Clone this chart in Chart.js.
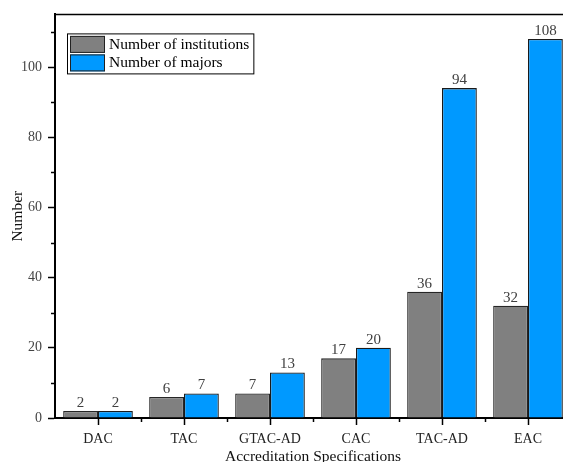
<!DOCTYPE html>
<html>
<head>
<meta charset="utf-8">
<script src="https://cdn.jsdelivr.net/npm/chart.js@4/dist/chart.umd.min.js"></script>
<style>
  html, body { margin: 0; padding: 0; background: #fff; overflow: hidden; width: 563px; height: 462px; }
  canvas { display: block; }
</style>
</head>
<body>
<canvas id="c" width="580" height="470"></canvas>
<script>
// Accreditation specifications and counts per specification
const categories = ['DAC', 'TAC', 'GTAC-AD', 'CAC', 'TAC-AD', 'EAC'];
const institutions = [2, 6, 7, 17, 36, 32];
const majors = [2, 7, 13, 20, 94, 108];
const seriesNames = ['Number of institutions', 'Number of majors'];
const yMajorTicks = [0, 20, 40, 60, 80, 100];
const yMinorTicks = [10, 30, 50, 70, 90, 110];

const SERIF = '"Liberation Serif", "Times New Roman", serif';

// Value labels above every bar
const valueLabels = {
  id: 'valueLabels',
  afterDatasetsDraw(chart) {
    const ctx = chart.ctx;
    ctx.save();
    ctx.font = '15px ' + SERIF;
    ctx.fillStyle = '#404040';
    ctx.textAlign = 'center';
    ctx.textBaseline = 'bottom';
    chart.data.datasets.forEach((ds, i) => {
      chart.getDatasetMeta(i).data.forEach((bar, j) => {
        ctx.fillText(String(ds.data[j]), bar.x, bar.y - 0.5);
      });
    });
    ctx.restore();
  }
};

// Minor ticks, top frame line and boxed legend
const frame = {
  id: 'frame',
  afterDraw(chart) {
    const ctx = chart.ctx;
    const a = chart.chartArea;
    const x = chart.scales.x, y = chart.scales.y;
    ctx.save();
    ctx.strokeStyle = '#000';
    // top frame
    ctx.lineWidth = 1.5;
    ctx.beginPath();
    ctx.moveTo(a.left, a.top);
    ctx.lineTo(a.right + 2, a.top);
    ctx.stroke();
    // minor ticks on y
    ctx.lineWidth = 1.5;
    yMinorTicks.forEach(v => {
      const py = Math.round(y.getPixelForValue(v)) + 0.5;
      ctx.beginPath();
      ctx.moveTo(a.left - 4, py);
      ctx.lineTo(a.left, py);
      ctx.stroke();
    });
    // minor ticks on x at category boundaries
    for (let i = 1; i < categories.length; i++) {
      const px = Math.round((x.getPixelForValue(i - 1) + x.getPixelForValue(i)) / 2) + 0.5;
      ctx.beginPath();
      ctx.moveTo(px, a.bottom);
      ctx.lineTo(px, a.bottom + 4);
      ctx.stroke();
    }
    // legend
    ctx.font = '15.5px ' + SERIF;
    const lx = a.left + 12, ly = a.top + 19;
    const rowH = 18.5;
    let tw = 0;
    chart.data.datasets.forEach(ds => { tw = Math.max(tw, ctx.measureText(ds.label).width); });
    const bw = 3 + 35 + 5 + tw + 3, bh = rowH * 2 + 3;
    ctx.fillStyle = '#fff';
    ctx.fillRect(lx, ly, bw, bh);
    ctx.lineWidth = 1;
    ctx.strokeRect(lx + 0.5, ly + 0.5, bw, bh);
    chart.data.datasets.forEach((ds, i) => {
      const sy = ly + 2.5 + i * rowH;
      ctx.fillStyle = ds.backgroundColor;
      ctx.fillRect(lx + 3, sy, 35, 17);
      ctx.strokeStyle = '#222';
      ctx.lineWidth = 1;
      ctx.strokeRect(lx + 3.5, sy + 0.5, 34, 16);
      ctx.fillStyle = '#000';
      ctx.textAlign = 'left';
      ctx.textBaseline = 'middle';
      ctx.fillText(ds.label, lx + 42, sy + 9);
    });
    ctx.restore();
  }
};

new Chart(document.getElementById('c'), {
  type: 'bar',
  data: {
    labels: categories,
    datasets: [
      { label: seriesNames[0], data: institutions, backgroundColor: '#808080', borderColor: '#262626', borderWidth: 1.3 },
      { label: seriesNames[1], data: majors, backgroundColor: '#0099ff', borderColor: '#1a1a1a', borderWidth: 1.3 }
    ]
  },
  options: {
    responsive: false,
    animation: false,
    devicePixelRatio: 1,
    layout: { padding: { top: 14, right: 9, left: 0, bottom: 0 } },
    plugins: { legend: { display: false }, tooltip: { enabled: false } },
    datasets: { bar: { categoryPercentage: 0.81, barPercentage: 1 } },
    scales: {
      x: {
        type: 'category',
        offset: true,
        grid: { display: true, offset: false, drawOnChartArea: false, tickLength: 7, tickWidth: 1.5, tickColor: '#000' },
        border: { display: true, color: '#000', width: 2 },
        ticks: { color: '#222', padding: 6, font: { family: SERIF, size: 14 }, maxRotation: 0 },
        title: { display: true, text: 'Accreditation Specifications', color: '#111', font: { family: SERIF, size: 15.5 }, padding: { top: 0, bottom: 4 } },
        afterFit(scale) { scale.height = 52; }
      },
      y: {
        min: 0,
        max: 115,
        grid: { display: true, drawOnChartArea: false, tickLength: 7, tickWidth: 1.5, tickColor: '#000' },
        border: { display: true, color: '#000', width: 2 },
        ticks: { stepSize: 20, color: '#444', padding: 6, font: { family: SERIF, size: 14 } },
        afterBuildTicks(scale) { scale.ticks = yMajorTicks.map(v => ({ value: v })); },
        title: { display: true, text: 'Number', color: '#111', font: { family: SERIF, size: 15.5 }, padding: { top: 9, bottom: 0 } },
        afterFit(scale) { scale.width = 55; }
      }
    }
  },
  plugins: [valueLabels, frame]
});
</script>
</body>
</html>
